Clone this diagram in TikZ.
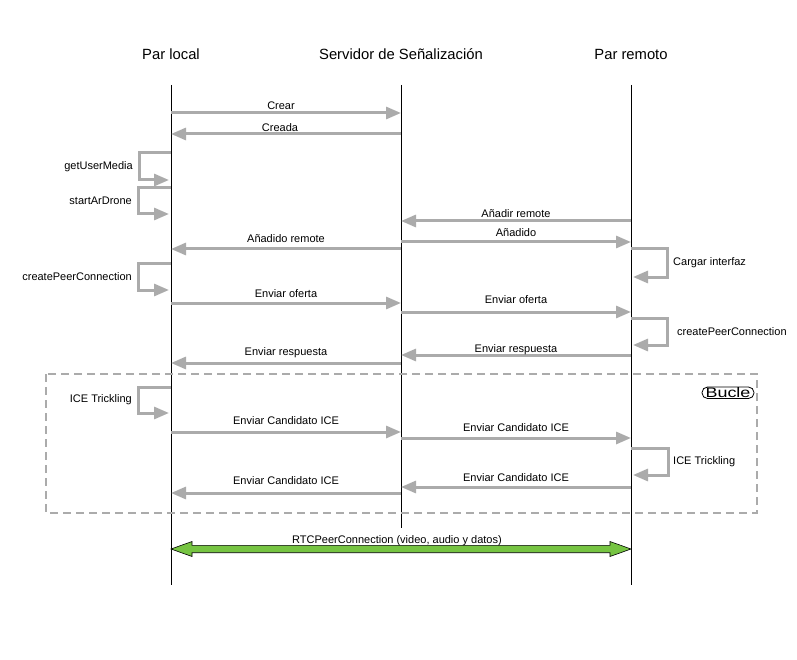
\documentclass[tikz,border=0pt]{standalone}
\usepackage{fontspec}
\setmainfont{Liberation Sans}
\usetikzlibrary{arrows.meta}
\definecolor{msggray}{HTML}{ABABAB}
\definecolor{linkgreen}{HTML}{76C442}
\newcommand\seqmsg[6][0]{%
  \draw[msg] (#2|-0,#4) -- node[lbl,midway,yshift={(#4-#5)*1pt},xshift={#1*1pt}] {#6} (#3|-0,#4);}
\newcommand\selfL[5]{%
  \draw[msg] (#1|-0,#2) -- ++(#4,0) |- ([xshift=-2pt]#1|-0,#3);
  \node[lbl,anchor=east] at ([xshift={(#4-6)*1pt}]#1|-0,{(#2+#3)/2}) {#5};}
\newcommand\selfR[6]{%
  \draw[msg] (#1|-0,#2) -- ++(#4,0) |- ([xshift=2pt]#1|-0,#3);
  \node[lbl,anchor=west] at ([xshift={(#4+#6)*1pt}]#1|-0,{(#2+#3)/2}) {#5};}
\begin{document}
\begin{tikzpicture}[x=1pt,y=-1pt,
  msg/.style={draw=msggray,line width=3pt,-{Triangle[length=15pt,width=12pt]}},
  lbl/.style={font=\fontsize{11}{13}\selectfont,inner sep=0pt},
  hdr/.style={font=\fontsize{14.8}{17}\selectfont,inner sep=0pt},
  life/.style={draw=black,line width=0.9pt},
  loopbox/.style={draw=msggray,line width=1.5pt,dash pattern=on 8pt off 5pt}]
\useasboundingbox (0,0) rectangle (797,660);
% headers
\node[hdr] (hpl) at (171,54) {Par local};
\node[hdr] (hss) at (401,54) {Servidor de Señalización};
\node[hdr] (hpr) at (631,54) {Par remoto};
% lifelines
\coordinate (pl) at (171,85); \coordinate (plb) at (171,585);
\coordinate (ss) at (401,85); \coordinate (ssb) at (401,528);
\coordinate (pr) at (631,85); \coordinate (prb) at (631,585);
\draw[life] (pl) -- (plb);
\draw[life] (ss) -- (ssb);
\draw[life] (pr) -- (prb);
% loop frame
\coordinate (bA) at (46,374); \coordinate (bB) at (757,513);
\draw[loopbox] (bA) rectangle (bB);
\draw[line width=0.8pt,rounded corners=5.5pt] (702,387) rectangle (754,398.5);
\node[inner sep=0pt,font=\fontsize{13.8}{15}\selectfont] (bucle) at (728,393) {\scalebox{1.3}[1]{Bucle}};
% messages
\seqmsg[-5]{pl}{ss}{113}{106}{Crear}
\seqmsg[-6]{ss}{pl}{134}{128}{Creada}
\selfL{pl}{153}{180}{-32}{getUserMedia}
\selfL{pl}{188}{214}{-33}{startArDrone}
\seqmsg{pr}{ss}{221}{214}{Añadir remote}
\seqmsg{ss}{pr}{242}{233}{Añadido}
\seqmsg{ss}{pl}{249}{239}{Añadido remote}
\selfR{pr}{249}{277}{36}{Cargar interfaz}{6}
\selfL{pl}{263}{290}{-33}{createPeerConnection}
\seqmsg{pl}{ss}{303}{293.5}{Enviar oferta}
\seqmsg{ss}{pr}{312}{300}{Enviar oferta}
\selfR{pr}{318}{345}{36}{createPeerConnection}{10}
\seqmsg{pr}{ss}{355}{350}{Enviar respuesta}
\seqmsg{ss}{pl}{363}{353}{Enviar respuesta}
\selfL{pl}{387}{413}{-33}{ICE Trickling}
\seqmsg{pl}{ss}{432}{421}{Enviar Candidato ICE}
\seqmsg{ss}{pr}{438}{428}{Enviar Candidato ICE}
\selfR{pr}{448}{475}{37}{ICE Trickling}{5}
\seqmsg{pr}{ss}{487}{478}{Enviar Candidato ICE}
\seqmsg{ss}{pl}{493}{481}{Enviar Candidato ICE}
% RTCPeerConnection
\coordinate (gL) at (pl|-0,549);
\coordinate (gR) at (pr|-0,549);
\draw[fill=linkgreen,draw=black,line width=0.6pt]
  (gL) -- ++(21,-7.5) -- ++(0,3.8) -- ([xshift=-21pt,yshift=3.7pt]gR) -- ++(0,-3.8)
  -- (gR) -- ++(-21,7.5) -- ++(0,-3.8) -- ([xshift=21pt,yshift=-3.7pt]gL) -- ++(0,3.8) -- cycle;
\node[lbl] (rtc) at (397,540.5) {RTCPeerConnection (video, audio y datos)};
\end{tikzpicture}
\end{document}
